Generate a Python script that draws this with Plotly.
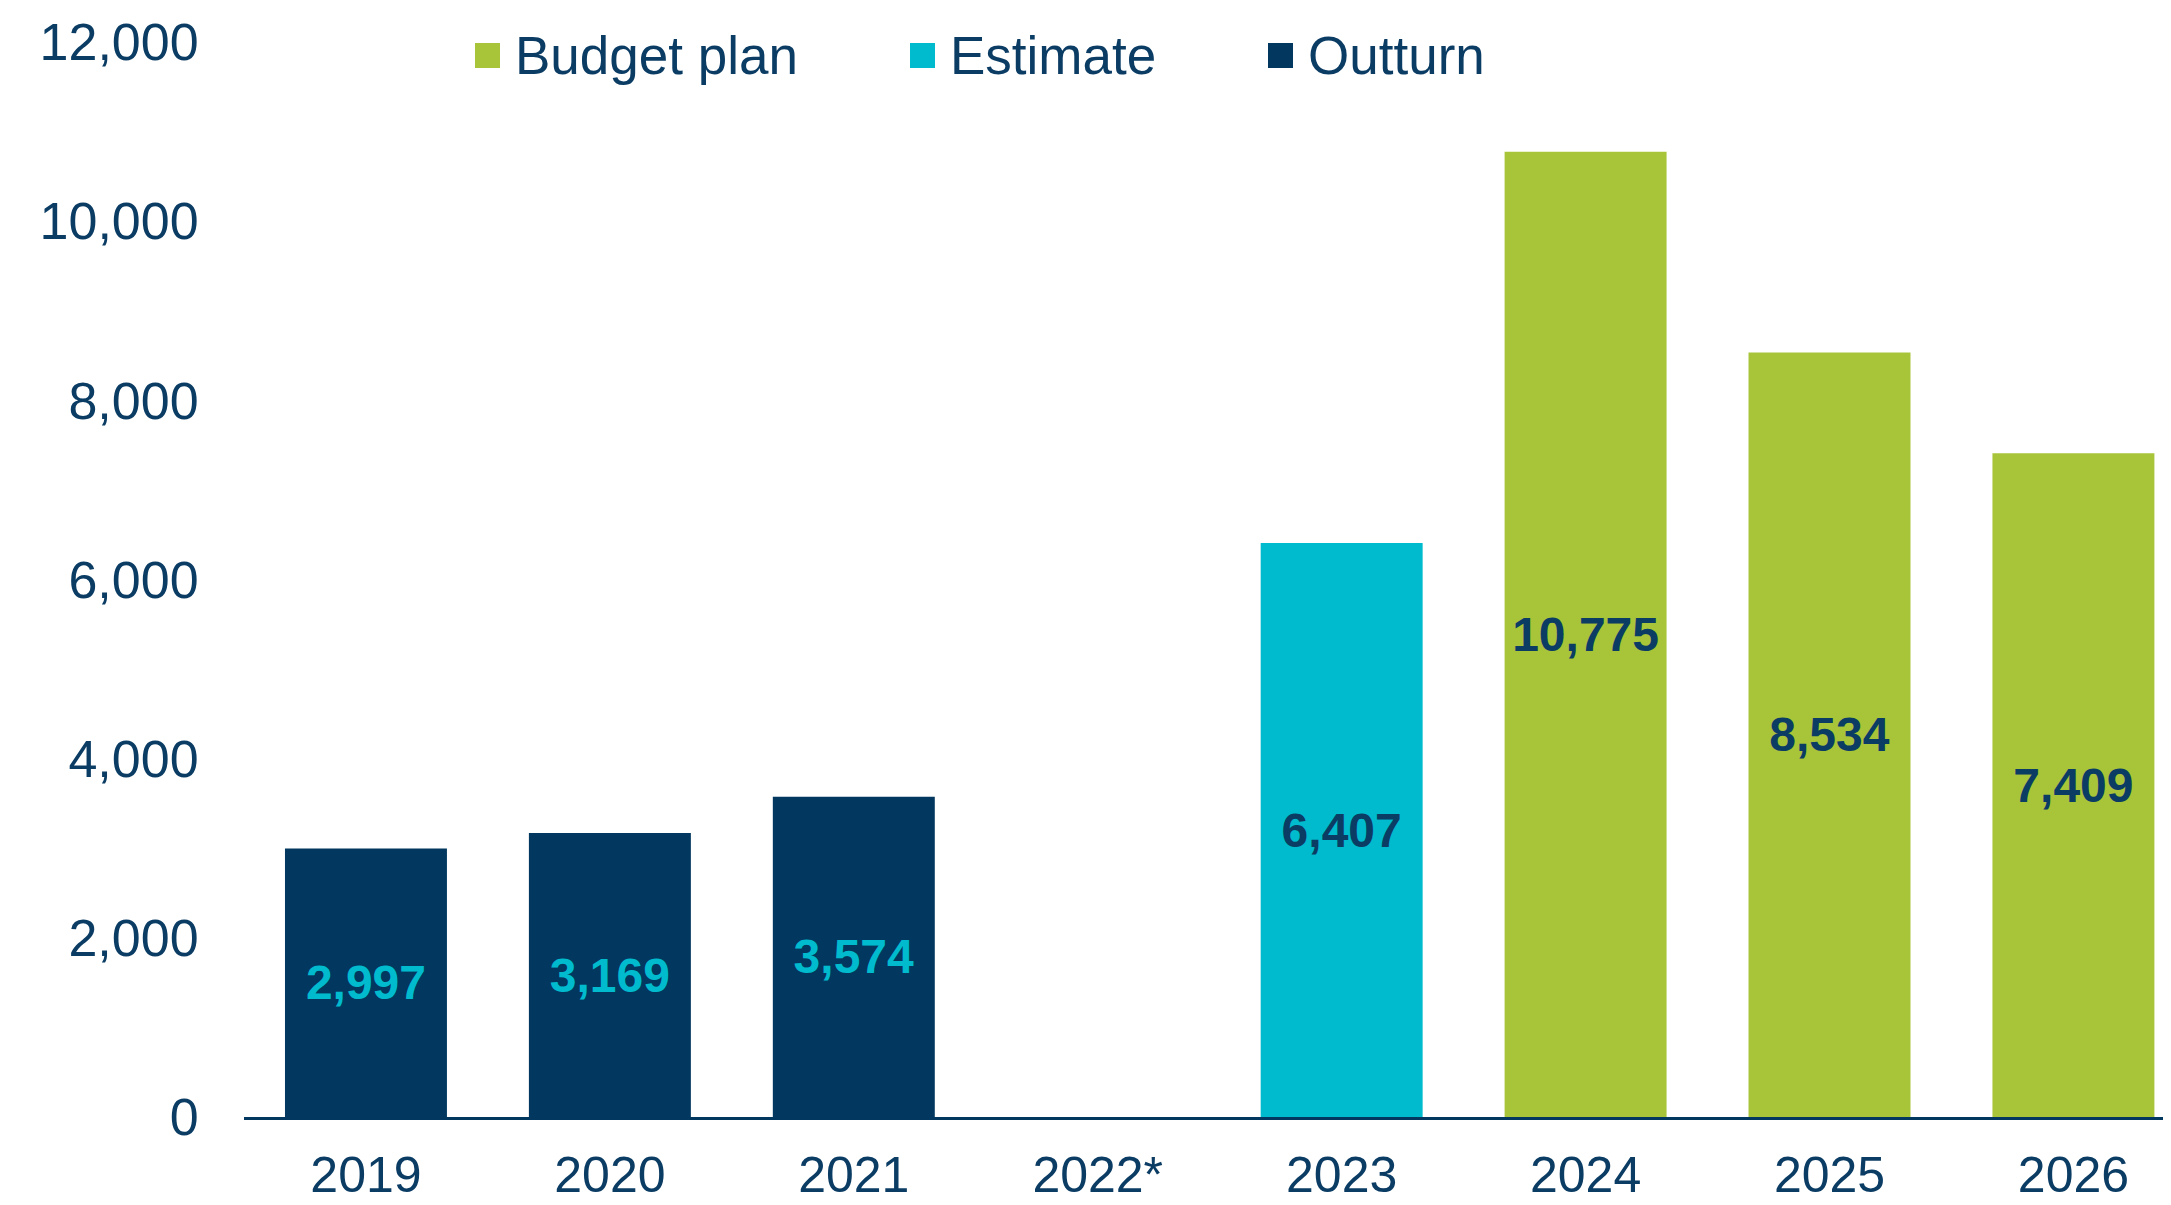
import plotly.graph_objects as go

categories = ["2019", "2020", "2021", "2022*", "2023", "2024", "2025", "2026"]
series_names = ["Budget plan", "Estimate", "Outturn"]
budget_plan = [None, None, None, None, None, 10775, 8534, 7409]
estimate = [None, None, None, None, 6407, None, None, None]
outturn = [2997, 3169, 3574, None, None, None, None, None]
y_ticks = [0, 2000, 4000, 6000, 8000, 10000, 12000]

NAVY = "#02385F"
CYAN = "#00BACD"
GREEN = "#A8C53A"
TEXT = "#0B3C64"
FONT = "Liberation Sans, Arial, sans-serif"

series = [
    (series_names[0], budget_plan, GREEN, TEXT),
    (series_names[1], estimate, CYAN, TEXT),
    (series_names[2], outturn, NAVY, CYAN),
]

fig = go.Figure()
for name, vals, col, lblcol in series:
    fig.add_trace(go.Bar(
        x=categories, y=vals, name=name,
        marker=dict(color=col, line=dict(width=0)),
        width=0.664,
        text=[f"{v:,}" if v is not None else "" for v in vals],
        textposition="inside", insidetextanchor="middle",
        textangle=0,
        textfont=dict(family=FONT, size=48, color=lblcol, weight="bold"),
        showlegend=False,
    ))

# page body has an 8px margin; lay out in reference pixels minus 8
OFF = 8
W, H = 2171 - OFF, 1205 - OFF
L, R, T, B = 244 - OFF, 0, 42 - OFF, 88
pw, ph = W - L - R, H - T - B
def px(x):
    return (x - OFF - L) / pw
def py(y):
    return (H - B - (y - OFF)) / ph

leg_sq_x = [475, 910, 1268]
leg_cols = [GREEN, CYAN, NAVY]
for nm, sx, col in zip(series_names, leg_sq_x, leg_cols):
    fig.add_shape(type="rect", xref="paper", yref="paper",
                  x0=px(sx), x1=px(sx + 25), y0=py(68), y1=py(43),
                  fillcolor=col, line=dict(width=0))
    fig.add_annotation(xref="paper", yref="paper", x=px(sx + 38), y=py(55),
                       text=nm, showarrow=False, xanchor="left", yanchor="middle",
                       font=dict(family=FONT, size=53, color=TEXT))

fig.update_layout(
    width=W, height=H,
    margin=dict(l=L, r=R, t=T, b=B, autoexpand=False),
    paper_bgcolor="white", plot_bgcolor="white",
    barmode="relative",
    showlegend=False,
)
fig.update_xaxes(
    type="category", categoryorder="array", categoryarray=categories,
    range=[-0.5, 7.4],
    showgrid=False, showline=True, linecolor=NAVY, linewidth=3,
    ticks="outside", ticklen=12, tickcolor="rgba(0,0,0,0)",
    tickfont=dict(family=FONT, size=50, color=TEXT),
    automargin=False,
)
fig.update_yaxes(
    range=[0, 12000], tickvals=y_ticks, tickformat=",",
    showgrid=False, showline=False, zeroline=False,
    ticks="outside", ticklen=34, tickcolor="rgba(0,0,0,0)",
    tickfont=dict(family=FONT, size=52, color=TEXT),
    automargin=False,
)

fig.write_html("out.html")
